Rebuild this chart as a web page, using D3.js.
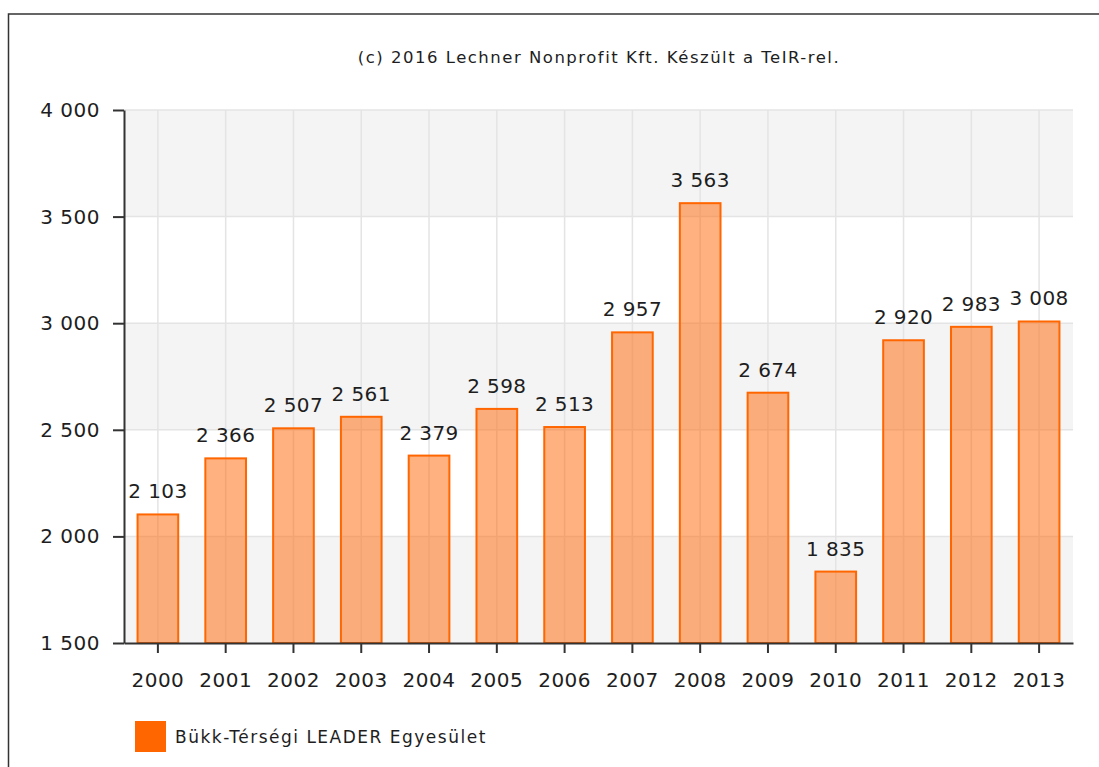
<!DOCTYPE html>
<meta charset="utf-8">
<style>
  body{
    margin: 0;
    background: #fff;
  }
  text{
    fill: #1e1e1e;
    font-family: "DejaVu Sans", Verdana, sans-serif;
  }
</style>

<svg width="1099" height="767"></svg>

<script src="https://d3js.org/d3.v7.min.js"></script>
<script>
  // data
  const years = ['2000','2001','2002','2003','2004','2005','2006','2007','2008','2009','2010','2011','2012','2013']
  const values = [2103, 2366, 2507, 2561, 2379, 2598, 2513, 2957, 3563, 2674, 1835, 2920, 2983, 3008]
  const yTicks = [1500, 2000, 2500, 3000, 3500, 4000]
  const seriesName = 'Bükk-Térségi LEADER Egyesület'
  const credit = '(c) 2016 Lechner Nonprofit Kft. Készült a TeIR-rel.'

  // visual values
  const plot = {left: 124, top: 110, right: 1073, bottom: 643}
  const orange = '#ff6600'

  const fmt = d3.formatLocale({decimal: ',', thousands: ' ', grouping: [3], currency: ['', '']}).format(',d')

  const svg = d3.select('svg')

  // outer frame (runs off the right and bottom of the page)
  svg.append('rect')
    .attr('x', 8.5).attr('y', 14)
    .attr('width', 1200).attr('height', 900)
    .attr('fill', 'none')
    .attr('stroke', '#333')
    .attr('stroke-width', 1.5)

  svg.append('text')
    .attr('x', 599).attr('y', 63)
    .attr('text-anchor', 'middle')
    .style('font-size', '16.5px')
    .style('letter-spacing', '1.5px')
    .text(credit)

  const x = d3.scaleBand()
    .domain(years)
    .range([plot.left, plot.right])
    .paddingInner(0.4)
    .paddingOuter(0.2)

  const y = d3.scaleLinear()
    .domain([yTicks[0], yTicks[yTicks.length-1]])
    .range([plot.bottom, plot.top])

  // alternating bands
  const bands = svg.append('g')
  bands.selectAll('rect')
    .data(d3.pairs(yTicks).filter((d, i)=> i % 2 === 0))
    .enter()
    .append('rect')
    .attr('x', plot.left)
    .attr('width', plot.right - plot.left)
    .attr('y', d=>y(d[1]))
    .attr('height', d=>y(d[0]) - y(d[1]))
    .attr('fill', '#f4f4f4')

  // grid
  const grid = svg.append('g').attr('stroke', '#e4e4e4').attr('stroke-width', 1.5)
  grid.selectAll('.h')
    .data(yTicks.slice(1))
    .enter()
    .append('line')
    .attr('x1', plot.left).attr('x2', plot.right)
    .attr('y1', d=>y(d)).attr('y2', d=>y(d))
  grid.selectAll('.v')
    .data(years)
    .enter()
    .append('line')
    .attr('x1', d=>x(d) + x.bandwidth()/2).attr('x2', d=>x(d) + x.bandwidth()/2)
    .attr('y1', plot.top).attr('y2', plot.bottom)

  // bars
  svg.append('g')
    .selectAll('rect')
    .data(values)
    .enter()
    .append('rect')
    .attr('x', (d, i)=>x(years[i]))
    .attr('width', x.bandwidth())
    .attr('y', d=>y(d))
    .attr('height', d=>plot.bottom - y(d))
    .attr('fill', orange)
    .attr('fill-opacity', 0.5)
    .attr('stroke', orange)
    .attr('stroke-width', 2)

  // value labels
  svg.append('g')
    .selectAll('text')
    .data(values)
    .enter()
    .append('text')
    .attr('x', (d, i)=>x(years[i]) + x.bandwidth()/2)
    .attr('y', d=>y(d) - 16)
    .attr('text-anchor', 'middle')
    .style('font-size', '20px')
    .style('letter-spacing', '0.4px')
    .text(d=>fmt(d))

  // axes
  const xAxis = d3.axisBottom(x).tickSize(10).tickPadding(20).tickSizeOuter(0)
  const yAxis = d3.axisLeft(y).tickValues(yTicks).tickFormat(fmt).tickSize(11).tickPadding(13).tickSizeOuter(0)

  const gx = svg.append('g')
    .attr('transform', 'translate(0,' + plot.bottom + ')')
    .call(xAxis)
  const gy = svg.append('g')
    .attr('transform', 'translate(' + plot.left + ',0)')
    .call(yAxis)

  ;[gx, gy].forEach(g=>{
    g.select('.domain').attr('stroke', '#333').attr('stroke-width', 2)
    g.selectAll('.tick line').attr('stroke', '#333').attr('stroke-width', 2)
    g.selectAll('.tick text')
      .attr('fill', '#1e1e1e')
      .style('font-family', '"DejaVu Sans", Verdana, sans-serif')
      .style('font-size', '20px')
      .style('letter-spacing', '0.5px')
  })

  // legend
  svg.append('rect')
    .attr('x', 135).attr('y', 721)
    .attr('width', 31).attr('height', 31)
    .attr('fill', orange)
  svg.append('text')
    .attr('x', 175).attr('y', 743)
    .style('font-size', '17px')
    .style('letter-spacing', '1.5px')
    .text(seriesName)
</script>
